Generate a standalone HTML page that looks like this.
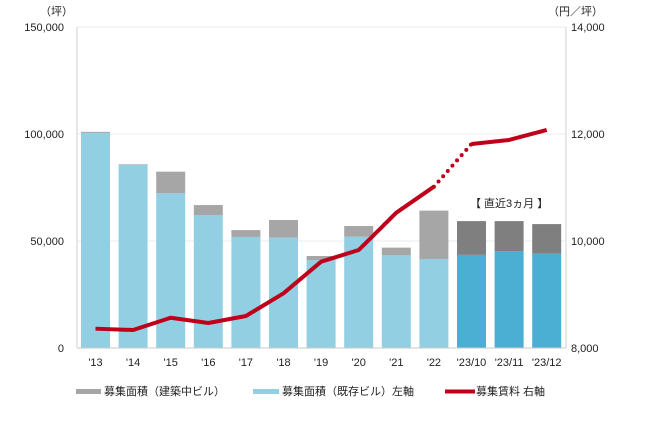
<!DOCTYPE html>
<html><head><meta charset="utf-8"><style>
body{margin:0;background:#fff;}
svg text{font-family:"Liberation Sans","Noto Sans CJK JP",sans-serif;fill:#222;}
</style></head><body>
<svg id="chart" width="650" height="417" viewBox="0 0 650 417">
<g id="grid"></g><g id="bars"></g><g id="line"></g><g id="axes"></g><g id="legend"></g>
</svg>
<script>
const categories=["'13","'14","'15","'16","'17","'18","'19","'20","'21","'22","'23/10","'23/11","'23/12"];
const existing=[100500,85500,72300,62150,51900,51600,41100,52000,43300,41600,43500,45300,44100];
const construction=[500,300,10100,4650,3200,8200,1900,5000,3600,22600,15800,14000,13800];
const rent=[8361,8336,8566,8467,8598,9022,9613,9832,10529,11015,11813,11888,12075];
const leftTicks=[0,50000,100000,150000];
const rightTicks=[8000,10000,12000,14000];
const NS="http://www.w3.org/2000/svg";
const yL=v=>348-v/150000*321;
const yR=v=>348-(v-8000)/6000*321;
const xC=i=>95.5+i*37.6;
function mk(tag,attrs,parent,txt){const e=document.createElementNS(NS,tag);for(const k in attrs)e.setAttribute(k,attrs[k]);if(txt!==undefined)e.textContent=txt;parent.appendChild(e);return e;}
const g=document.getElementById('grid'),b=document.getElementById('bars'),l=document.getElementById('line'),a=document.getElementById('axes'),lg=document.getElementById('legend');
leftTicks.forEach((t,i)=>{
 if(t>0){const gl=mk('line',{x1:77,x2:566,y1:yL(t),y2:yL(t),stroke:'#ebebeb','stroke-width':1},g);
 
 }
 const tx=mk('text',{x:64,y:yL(t)+4,'text-anchor':'end','font-size':11},a,t.toLocaleString('en-US'));
 
 
});
rightTicks.forEach(t=>{
 const tx=mk('text',{x:571,y:yR(t)+4,'font-size':11},a,t.toLocaleString('en-US'));
 
 
});
categories.forEach((c,i)=>{
 const recent=i>=10;
 const x=xC(i)-14.5;
 const r1=mk('rect',{x:x,y:yL(existing[i]),width:29,height:348-yL(existing[i]),fill:recent?'#4bafd3':'#92cfe2'},b);
 
 
 const top=yL(existing[i]+construction[i]);
 const r2=mk('rect',{x:x,y:top,width:29,height:yL(existing[i])-top,fill:recent?'#7f7f7f':'#a6a6a6'},b);
 
 
 const tx=mk('text',{x:xC(i),y:366,'text-anchor':'middle','font-size':11},a,c);
 
 
});
const pts=rent.map((v,i)=>[xC(i),yR(v)]);
const p1=mk('polyline',{points:pts.slice(0,10).map(p=>p.join(',')).join(' '),fill:'none',stroke:'#c0001a','stroke-width':4,'stroke-linejoin':'round'},l);


const p2=mk('line',{x1:pts[9][0],y1:pts[9][1],x2:pts[10][0],y2:pts[10][1],stroke:'#c0001a','stroke-width':4,'stroke-dasharray':'0 7','stroke-linecap':'round'},l);


const p3=mk('polyline',{points:pts.slice(10).map(p=>p.join(',')).join(' '),fill:'none',stroke:'#c0001a','stroke-width':4,'stroke-linejoin':'round'},l);


</script>
<script>
(function(){
const a=document.getElementById('axes');const lg=document.getElementById('legend');
function mk(tag,attrs,parent,txt){const e=document.createElementNS("http://www.w3.org/2000/svg",tag);for(const k in attrs)e.setAttribute(k,attrs[k]);if(txt!==undefined)e.textContent=txt;parent.appendChild(e);return e;}
const ax1=mk('line',{x1:77,x2:77,y1:27,y2:348,stroke:'#d0d0d0'},a);


const ax2=mk('line',{x1:566,x2:566,y1:27,y2:348,stroke:'#d0d0d0'},a);


const ax3=mk('line',{x1:77,x2:566,y1:348,y2:348,stroke:'#c8c8c8'},a);


const t1=mk('text',{x:40,y:15,'font-size':11},a,'（坪）');


const t2=mk('text',{x:548,y:15,'font-size':11},a,'（円／坪）');


const t3=mk('text',{x:470,y:207,'font-size':11},a,'【 直近3ヵ月 】');


const r1=mk('rect',{x:76,y:389,width:25,height:5,fill:'#a6a6a6'},lg);


const l1=mk('text',{x:104,y:395,'font-size':11},lg,'募集面積（建築中ビル）');


const r2=mk('rect',{x:253,y:389,width:26,height:5,fill:'#92cfe2'},lg);


const l2=mk('text',{x:282,y:395,'font-size':11},lg,'募集面積（既存ビル）左軸');


const r3=mk('line',{x1:445,x2:475,y1:391.5,y2:391.5,stroke:'#c0001a','stroke-width':4},lg);


const l3=mk('text',{x:476,y:395,'font-size':11},lg,'募集賃料 右軸');


})();
</script>
</body></html>
